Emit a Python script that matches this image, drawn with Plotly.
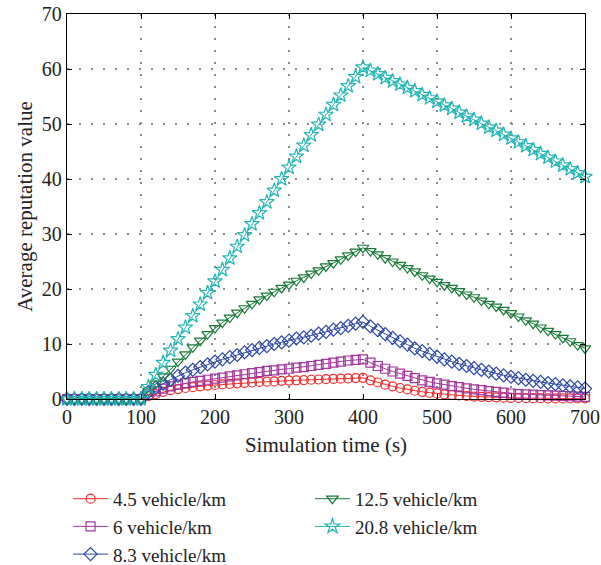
import plotly.graph_objects as go

time_s = list(range(0, 701, 10))

zeros = [0.0] * 11
rep_4_5 = zeros + [0.5, 0.9, 1.3, 1.6, 1.8, 2.0, 2.15, 2.3, 2.45, 2.55,
                   2.65, 2.75, 2.85, 2.95, 3.0, 3.1, 3.15, 3.2, 3.3, 3.35,
                   3.4, 3.45, 3.5, 3.55, 3.6, 3.65, 3.7, 3.75, 3.8, 3.85,
                   3.4, 3.0, 2.6, 2.3, 2.0, 1.75, 1.5, 1.3, 1.15, 1.0,
                   0.85, 0.75, 0.65, 0.55, 0.45, 0.4, 0.35, 0.3, 0.25, 0.2,
                   0.2, 0.15, 0.15, 0.15, 0.1, 0.1, 0.1, 0.1, 0.1, 0.1]
rep_6 = zeros + [0.8, 1.4, 1.9, 2.3, 2.6, 2.9, 3.1, 3.3, 3.5, 3.7,
                 3.9, 4.1, 4.3, 4.5, 4.7, 4.9, 5.1, 5.2, 5.4, 5.5,
                 5.7, 5.8, 6.0, 6.2, 6.4, 6.6, 6.8, 7.0, 7.1, 7.2,
                 6.6, 6.0, 5.5, 5.0, 4.6, 4.2, 3.8, 3.4, 3.1, 2.85,
                 2.6, 2.35, 2.15, 1.95, 1.75, 1.6, 1.45, 1.3, 1.15, 1.0,
                 0.9, 0.85, 0.8, 0.7, 0.65, 0.6, 0.55, 0.5, 0.45, 0.4]
rep_8_3 = zeros + [1.3, 2.1, 2.8, 3.5, 4.2, 4.8, 5.3, 5.8, 6.3, 6.8,
                   7.2, 7.6, 8.0, 8.5, 8.9, 9.3, 9.6, 10.0, 10.3, 10.6,
                   11.0, 11.2, 11.5, 11.9, 12.2, 12.6, 12.9, 13.3, 13.7, 14.0,
                   13.2, 12.5, 11.8, 11.1, 10.5, 9.9, 9.2, 8.7, 8.2, 7.7,
                   7.2, 6.8, 6.4, 6.0, 5.6, 5.3, 5.0, 4.6, 4.3, 4.05,
                   3.8, 3.5, 3.3, 3.1, 2.9, 2.7, 2.5, 2.3, 2.1, 1.9]
rep_12_5 = zeros + [1.5, 2.8, 4.1, 5.5, 6.8, 8.1, 9.4, 10.6, 11.8, 12.9,
                    13.9, 14.8, 15.7, 16.5, 17.3, 18.1, 18.8, 19.5, 20.2, 20.8,
                    21.5, 22.1, 22.8, 23.4, 24.1, 24.7, 25.4, 26.1, 26.8, 27.5,
                    26.9, 26.3, 25.6, 25.0, 24.4, 23.8, 23.2, 22.5, 21.9, 21.3,
                    20.7, 20.2, 19.6, 19.0, 18.5, 17.9, 17.3, 16.8, 16.2, 15.6,
                    15.0, 14.3, 13.7, 13.0, 12.4, 11.8, 11.1, 10.5, 9.8, 9.2]
rep_20_8 = zeros + [2.2, 4.4, 6.6, 8.8, 10.9, 13.0, 15.1, 17.2, 19.3, 21.4,
                    23.5, 25.6, 27.7, 29.8, 31.8, 33.8, 35.8, 37.9, 40.0, 42.1,
                    44.1, 46.1, 48.0, 49.9, 51.7, 53.5, 55.2, 56.9, 58.6, 60.3,
                    59.7, 59.1, 58.4, 57.8, 57.2, 56.6, 56.0, 55.3, 54.7, 54.1,
                    53.4, 52.8, 52.1, 51.4, 50.8, 50.1, 49.4, 48.8, 48.1, 47.4,
                    46.7, 46.0, 45.3, 44.6, 43.9, 43.2, 42.5, 41.8, 41.1, 40.4]

series_names = ["4.5 vehicle/km", "6 vehicle/km", "8.3 vehicle/km",
                "12.5 vehicle/km", "20.8 vehicle/km"]
series_values = [rep_4_5, rep_6, rep_8_3, rep_12_5, rep_20_8]
x_ticks = [0, 100, 200, 300, 400, 500, 600, 700]
y_ticks = [0, 10, 20, 30, 40, 50, 60, 70]

colors = ["#F22A2A", "#A3359E", "#2A46A6", "#187A38", "#22B5B5"]
symbols = ["circle-open", "square-open", "diamond-open",
           "triangle-down-open", "star-open"]
sizes = [9, 9, 10, 10, 11]
legends = ["legend", "legend", "legend", "legend2", "legend2"]

FONT = "Liberation Serif, Times New Roman, serif"
TXT = "#222222"

fig = go.Figure()
for name, vals, c, s, sz, lg in zip(series_names, series_values, colors,
                                     symbols, sizes, legends):
    fig.add_trace(go.Scatter(
        x=time_s, y=vals, name=name, mode="lines+markers",
        line=dict(color=c, width=1),
        marker=dict(symbol=s, size=sz, color=c, line=dict(width=1.2, color=c)),
        cliponaxis=False, legend=lg,
    ))

axis_common = dict(
    showline=True, linecolor="black", linewidth=1.3, mirror="ticks",
    ticks="inside", ticklen=5, tickcolor="black", tickwidth=1.3,
    showgrid=True, gridcolor="#8a8a8a", griddash="2px,10px", gridwidth=1.5,
    zeroline=False, tickfont=dict(family=FONT, size=20, color=TXT),
    automargin=False, ticklabeloverflow="allow",
)

fig.update_xaxes(range=[0, 700], tickvals=x_ticks,
                 title=dict(text="Simulation time (s)",
                            font=dict(family=FONT, size=21, color=TXT),
                            standoff=10),
                 **axis_common)
fig.update_yaxes(range=[0, 70], tickvals=y_ticks,
                 title=dict(text="Average reputation value",
                            font=dict(family=FONT, size=21, color=TXT),
                            standoff=3),
                 **axis_common)

legend_common = dict(
    font=dict(family=FONT, size=19, color=TXT),
    bgcolor="rgba(0,0,0,0)", borderwidth=0, tracegroupgap=0,
    orientation="v", xanchor="left", yanchor="top", itemwidth=35,
)
fig.update_layout(
    width=601, height=565,
    margin=dict(l=67, r=16, t=14, b=166, autoexpand=False),
    paper_bgcolor="white", plot_bgcolor="white",
    showlegend=True,
    legend=dict(x=0.002, y=-0.21, **legend_common),
    legend2=dict(x=0.469, y=-0.21, **legend_common),
)

fig.write_html("out.html",
               config={"displayModeBar": False},
               post_script="document.body.style.margin='0';"
                           "document.body.style.overflow='hidden';")
